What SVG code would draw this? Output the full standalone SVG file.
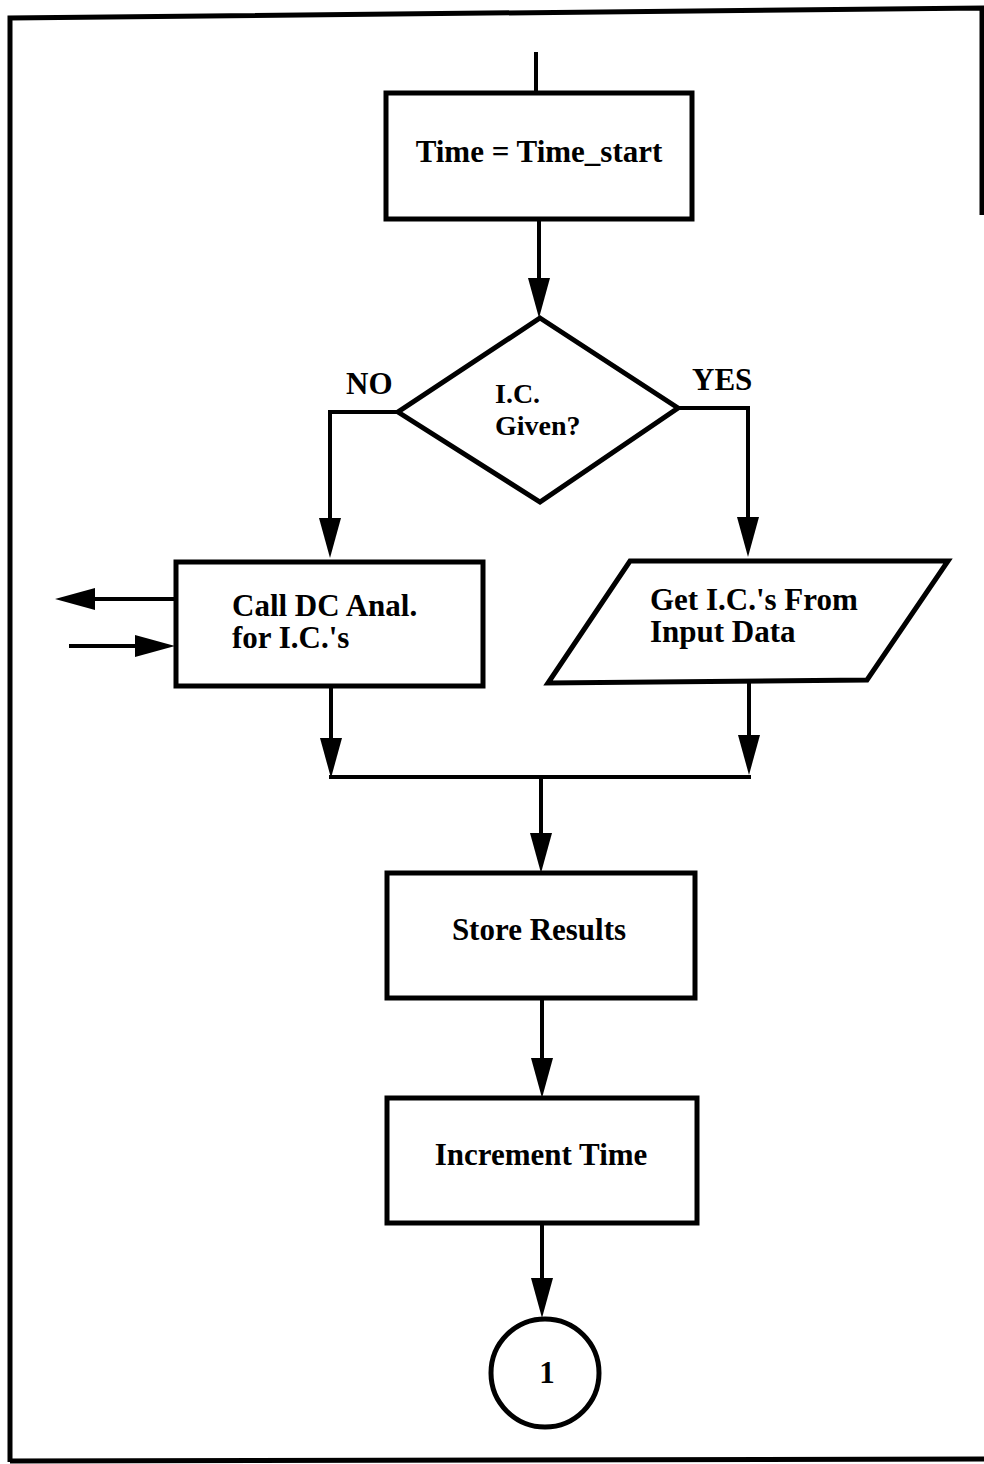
<svg xmlns="http://www.w3.org/2000/svg" width="984" height="1464" viewBox="0 0 984 1464">
<defs>
<style>
.shape{fill:#fff;stroke:#000;stroke-width:5;stroke-linejoin:miter}
.conn{fill:none;stroke:#000;stroke-width:4}
.arr{marker-end:url(#ah)}
.lbl{font-family:"Liberation Serif","Times New Roman",serif;font-weight:bold;font-size:31px;fill:#000}
.sm{font-size:28px}
.frame{fill:none;stroke:#000;stroke-width:5}
</style>
<marker id="ah" viewBox="0 0 40 22" refX="32" refY="11" markerWidth="40" markerHeight="22" markerUnits="userSpaceOnUse" orient="auto">
<path d="M0,0 L40,11 L0,22 Z" fill="#000"/>
</marker>
</defs>
<rect width="984" height="1464" fill="#fff"/>
<g id="frame">
<path class="frame" d="M10,1462 L10,18 L982,8 L982,215"/>
<path class="frame" d="M10,1461 L984,1459"/>
</g>
<g id="connectors">
<path class="conn" d="M536,52 V93"/>
<path class="conn arr" d="M539,220 V310"/>
<path class="conn arr" d="M398,412 H330 V550"/>
<path class="conn arr" d="M678,408 H748 V549"/>
<path class="conn arr" d="M331,686 V770"/>
<path class="conn arr" d="M749,682 V767"/>
<path class="conn" d="M329,777 H751"/>
<path class="conn arr" d="M541,777 V865"/>
<path class="conn arr" d="M542,998 V1090"/>
<path class="conn arr" d="M542,1223 V1310"/>
<path class="conn arr" d="M175,599 H63"/>
<path class="conn arr" d="M69,646 H167"/>
</g>
<g id="n-start">
<rect class="shape" x="386" y="93" width="306" height="126"/>
<text class="lbl" x="539" y="162" text-anchor="middle">Time = Time_start</text>
</g>
<g id="n-decision">
<polygon class="shape" points="540,318 678,408 540,502 398,412"/>
<text class="lbl sm" x="495" y="403">I.C.</text>
<text class="lbl sm" x="495" y="435">Given?</text>
</g>
<g id="lbl-no"><text class="lbl" x="346" y="394">NO</text></g>
<g id="lbl-yes"><text class="lbl" x="692" y="390">YES</text></g>
<g id="n-dc">
<rect class="shape" x="176" y="562" width="307" height="124"/>
<text class="lbl" x="232" y="616">Call DC Anal.</text>
<text class="lbl" x="232" y="648">for I.C.'s</text>
</g>
<g id="n-input">
<polygon class="shape" points="630,561 948,561 867,680 548,683"/>
<text class="lbl" x="650" y="610">Get I.C.'s From</text>
<text class="lbl" x="650" y="642">Input Data</text>
</g>
<g id="n-store">
<rect class="shape" x="387" y="873" width="308" height="125"/>
<text class="lbl" x="539" y="940" text-anchor="middle">Store Results</text>
</g>
<g id="n-inc">
<rect class="shape" x="387" y="1098" width="310" height="125"/>
<text class="lbl" x="541" y="1165" text-anchor="middle">Increment Time</text>
</g>
<g id="n-conn1">
<circle class="shape" cx="545" cy="1373" r="54"/>
<text class="lbl" x="547" y="1383" text-anchor="middle">1</text>
</g>
</svg>
